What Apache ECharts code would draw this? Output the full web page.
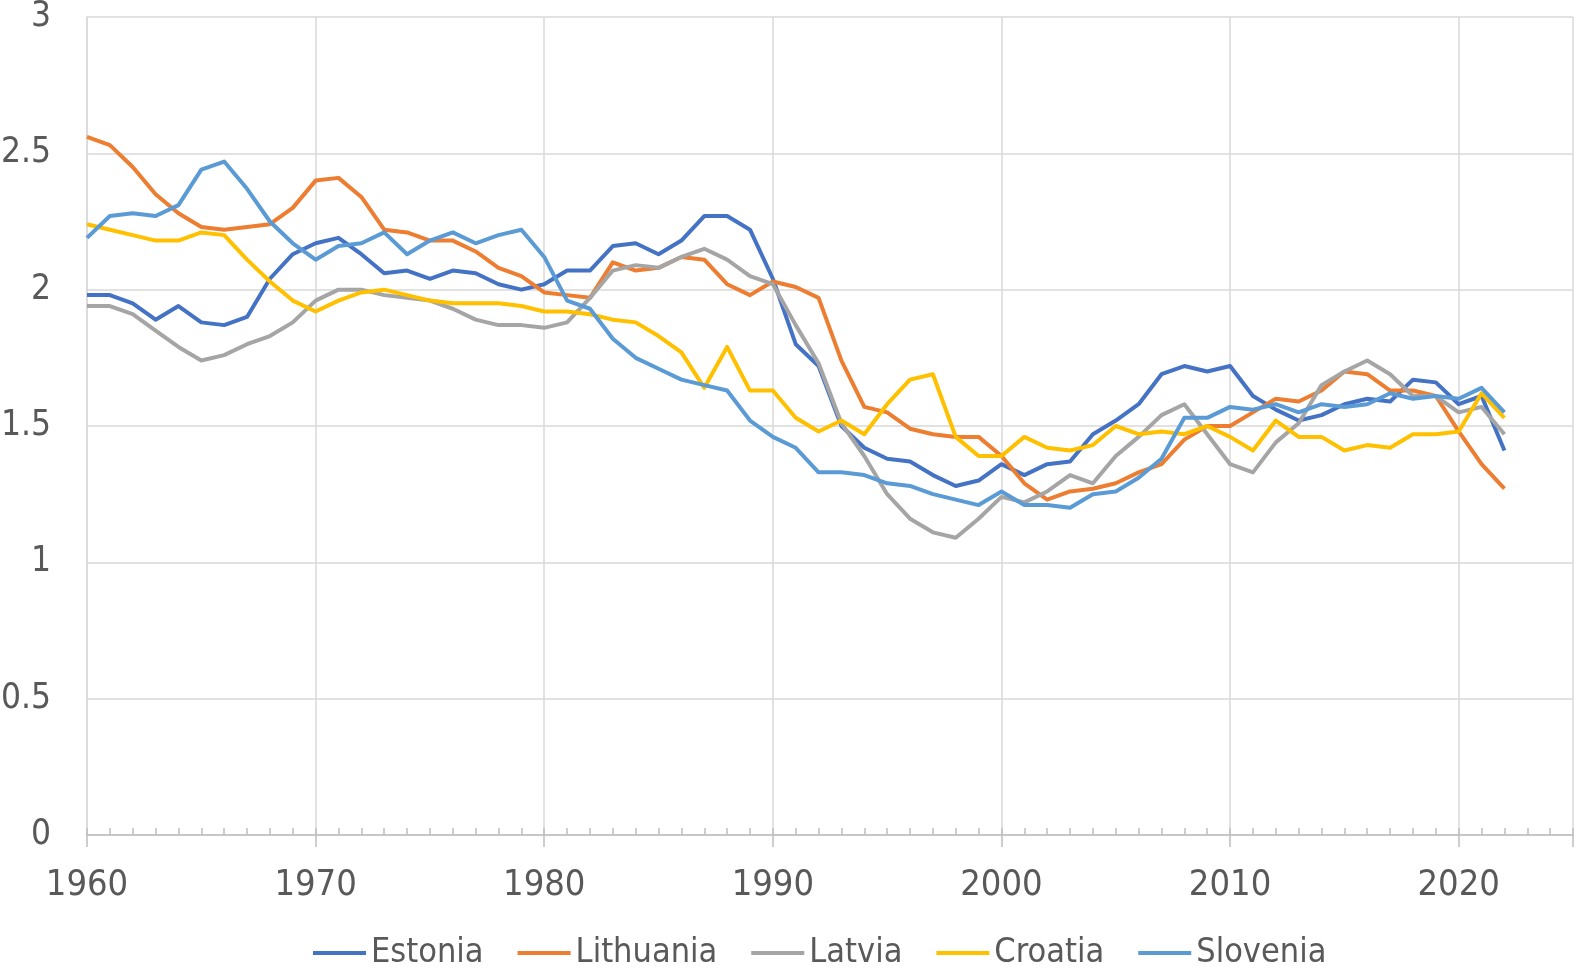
<!DOCTYPE html>
<html>
<head>
<meta charset="utf-8">
<script src="https://cdn.jsdelivr.net/npm/echarts@6/dist/echarts.min.js"></script>
<style>
  html, body { margin: 0; padding: 0; background: #fff; }
  #chart { width: 1576px; height: 968px; }
</style>
</head>
<body>
<div id="chart"></div>
<script>
const firstYear = 1960
const countries = ['Estonia', 'Lithuania', 'Latvia', 'Croatia', 'Slovenia']
const colors = ['#4472C4', '#ED7D31', '#A5A5A5', '#FFC000', '#5B9BD5']

// values 1960..2022
const estonia = [1.98, 1.98, 1.95, 1.89, 1.94, 1.88, 1.87, 1.90, 2.04, 2.13,
  2.17, 2.19, 2.13, 2.06, 2.07, 2.04, 2.07, 2.06, 2.02, 2.00,
  2.02, 2.07, 2.07, 2.16, 2.17, 2.13, 2.18, 2.27, 2.27, 2.22,
  2.04, 1.80, 1.72, 1.50, 1.42, 1.38, 1.37, 1.32, 1.28, 1.30,
  1.36, 1.32, 1.36, 1.37, 1.47, 1.52, 1.58, 1.69, 1.72, 1.70,
  1.72, 1.61, 1.56, 1.52, 1.54, 1.58, 1.60, 1.59, 1.67, 1.66,
  1.58, 1.61, 1.41]
const lithuania = [2.56, 2.53, 2.45, 2.35, 2.28, 2.23, 2.22, 2.23, 2.24, 2.30,
  2.40, 2.41, 2.34, 2.22, 2.21, 2.18, 2.18, 2.14, 2.08, 2.05,
  1.99, 1.98, 1.97, 2.10, 2.07, 2.08, 2.12, 2.11, 2.02, 1.98,
  2.03, 2.01, 1.97, 1.74, 1.57, 1.55, 1.49, 1.47, 1.46, 1.46,
  1.39, 1.29, 1.23, 1.26, 1.27, 1.29, 1.33, 1.36, 1.45, 1.50,
  1.50, 1.55, 1.60, 1.59, 1.63, 1.70, 1.69, 1.63, 1.63, 1.61,
  1.48, 1.36, 1.27]
const latvia = [1.94, 1.94, 1.91, 1.85, 1.79, 1.74, 1.76, 1.80, 1.83, 1.88,
  1.96, 2.00, 2.00, 1.98, 1.97, 1.96, 1.93, 1.89, 1.87, 1.87,
  1.86, 1.88, 1.97, 2.07, 2.09, 2.08, 2.12, 2.15, 2.11, 2.05,
  2.02, 1.87, 1.73, 1.51, 1.39, 1.25, 1.16, 1.11, 1.09, 1.16,
  1.24, 1.22, 1.26, 1.32, 1.29, 1.39, 1.46, 1.54, 1.58, 1.47,
  1.36, 1.33, 1.44, 1.51, 1.65, 1.70, 1.74, 1.69, 1.61, 1.61,
  1.55, 1.57, 1.47]
const croatia = [2.24, 2.22, 2.20, 2.18, 2.18, 2.21, 2.20, 2.11, 2.03, 1.96,
  1.92, 1.96, 1.99, 2.00, 1.98, 1.96, 1.95, 1.95, 1.95, 1.94,
  1.92, 1.92, 1.91, 1.89, 1.88, 1.83, 1.77, 1.64, 1.79, 1.63,
  1.63, 1.53, 1.48, 1.52, 1.47, 1.58, 1.67, 1.69, 1.46, 1.39,
  1.39, 1.46, 1.42, 1.41, 1.43, 1.50, 1.47, 1.48, 1.47, 1.50,
  1.46, 1.41, 1.52, 1.46, 1.46, 1.41, 1.43, 1.42, 1.47, 1.47,
  1.48, 1.62, 1.53]
const slovenia = [2.19, 2.27, 2.28, 2.27, 2.31, 2.44, 2.47, 2.37, 2.25, 2.17,
  2.11, 2.16, 2.17, 2.21, 2.13, 2.18, 2.21, 2.17, 2.20, 2.22,
  2.12, 1.96, 1.93, 1.82, 1.75, 1.71, 1.67, 1.65, 1.63, 1.52,
  1.46, 1.42, 1.33, 1.33, 1.32, 1.29, 1.28, 1.25, 1.23, 1.21,
  1.26, 1.21, 1.21, 1.20, 1.25, 1.26, 1.31, 1.38, 1.53, 1.53,
  1.57, 1.56, 1.58, 1.55, 1.58, 1.57, 1.58, 1.62, 1.60, 1.61,
  1.60, 1.64, 1.55]

const allValues = [estonia, lithuania, latvia, croatia, slovenia]
const font = "'DejaVu Sans Condensed', 'Liberation Sans Narrow', sans-serif"
const textColor = '#595959'

let myChart = echarts.init(document.getElementById('chart'))

let series = countries.map((name, i) => ({
  name: name,
  type: 'line',
  xAxisIndex: 0,
  showSymbol: false,
  symbol: 'none',
  lineStyle: { width: 4, color: colors[i], join: 'round' },
  itemStyle: { color: colors[i] },
  data: allValues[i].map((v, j) => [firstYear + j, v])
}))

myChart.setOption({
  animation: false,
  grid: { left: 87, right: 3, top: 17, bottom: 133, containLabel: false, outerBoundsMode: 'none' },
  legend: {
    data: countries,
    top: 931,
    left: 308,
    icon: 'rect',
    itemWidth: 53,
    itemHeight: 4,
    itemGap: 34,
    textStyle: { color: textColor, fontSize: 34, fontFamily: font }
  },
  xAxis: [
    {
      type: 'value',
      min: 1960,
      max: 2025,
      interval: 10,
      axisLine: { lineStyle: { color: '#bfbfbf', width: 1.5 } },
      axisTick: { show: true, inside: true, length: 7, lineStyle: { color: '#bfbfbf', width: 1.5 } },
      minorTick: { show: true, splitNumber: 10, length: 7, lineStyle: { color: '#bfbfbf', width: 1.5 } },
      splitLine: { show: true, lineStyle: { color: '#d9d9d9', width: 1.5 } },
      axisLabel: {
        color: textColor, fontSize: 36, fontFamily: font, margin: 33,
        formatter: v => (v % 10 === 0 ? String(v) : '')
      }
    },
    {
      type: 'value',
      position: 'bottom',
      min: 1960,
      max: 2025,
      interval: 10,
      axisLine: { show: false },
      axisTick: { show: true, length: 12, lineStyle: { color: '#bfbfbf', width: 1.5 } },
      splitLine: { show: false },
      axisLabel: { show: false }
    }
  ],
  yAxis: {
    type: 'value',
    min: 0,
    max: 3,
    interval: 0.5,
    axisLine: { show: true, lineStyle: { color: '#d9d9d9', width: 1.5 } },
    axisTick: { show: false },
    splitLine: { lineStyle: { color: '#d9d9d9', width: 1.5 } },
    axisLabel: { color: textColor, fontSize: 35, fontFamily: font, margin: 36 }
  },
  series: series
})
</script>
</body>
</html>
